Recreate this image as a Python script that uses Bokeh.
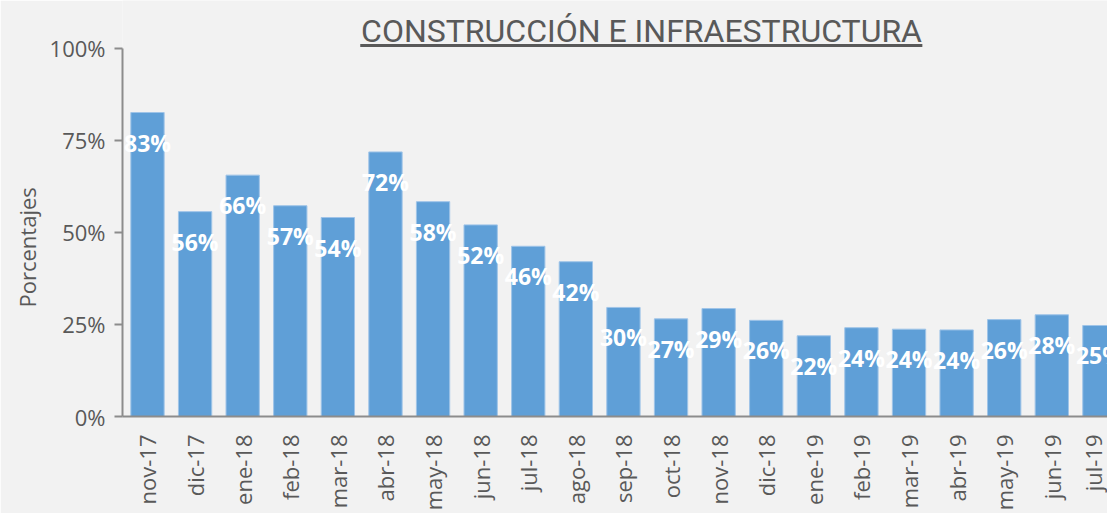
import math
from bokeh.plotting import figure
from bokeh.models import ColumnDataSource, Range1d, FixedTicker, Label, BoxAnnotation, PrintfTickFormatter, Title
from bokeh.core.properties import value
from bokeh.embed import file_html
from bokeh.resources import INLINE

months = ["nov-17", "dic-17", "ene-18", "feb-18", "mar-18", "abr-18", "may-18",
          "jun-18", "jul-18", "ago-18", "sep-18", "oct-18", "nov-18", "dic-18",
          "ene-19", "feb-19", "mar-19", "abr-19", "may-19", "jun-19", "jul-19"]
shares = [82.5, 55.6, 65.5, 57.2, 54.0, 71.8, 58.3, 52.0, 46.2, 42.0, 29.6,
          26.5, 29.3, 26.1, 21.9, 24.1, 23.7, 23.5, 26.3, 27.6, 24.7]
share_labels = [83, 56, 66, 57, 54, 72, 58, 52, 46, 42, 30, 27, 29, 26, 22,
                24, 24, 24, 26, 28, 25]
y_ticks = [0, 25, 50, 75, 100]
title_text = "CONSTRUCCIÓN E INFRAESTRUCTURA"
y_title = "Porcentajes"

GREY = "#595959"
FONT = value("Open Sans")

idx = list(range(len(months)))
src = ColumnDataSource(dict(x=idx, top=shares, lab=[f"{v}%" for v in share_labels]))

p = figure(width=1107, height=513,
           x_range=Range1d(-0.525, 20.17), y_range=Range1d(0, 112.9),
           output_backend="svg", toolbar_location=None,
           min_border_left=122, min_border_right=0, min_border_top=0, min_border_bottom=94)
p.background_fill_color = "#f2f2f2"
p.border_fill_color = "#f2f2f2"
p.outline_line_color = None
p.grid.visible = False

p.vbar(x="x", top="top", bottom=0, width=0.7, source=src,
       fill_color="#5f9fd7", line_color="#9fc4e8", line_width=1)
p.text(x="x", y="top", text="lab", source=src, y_offset=30,
       text_align="center", text_baseline="middle", text_color="white",
       text_font=FONT, text_font_style="bold", text_font_size="23px")

xa = p.xaxis[0]
xa.ticker = FixedTicker(ticks=idx)
xa.major_label_overrides = {i: m for i, m in enumerate(months)}
xa.major_label_orientation = math.pi / 2
xa.major_tick_out = 0
xa.major_tick_in = 0
xa.minor_tick_out = 0
xa.minor_tick_in = 0
xa.major_label_standoff = 18
xa.axis_line_color = "#8c8c8c"
xa.axis_line_width = 2
xa.major_label_text_font = "Open Sans"
xa.major_label_text_font_size = "22px"
xa.major_label_text_color = GREY

ya = p.yaxis[0]
ya.ticker = FixedTicker(ticks=y_ticks)
ya.bounds = (0, 100)
ya.formatter = PrintfTickFormatter(format="%d%%")
ya.major_tick_out = 8
ya.major_tick_in = 0
ya.minor_tick_out = 0
ya.minor_tick_in = 0
ya.major_label_standoff = 9
ya.axis_line_color = "#8c8c8c"
ya.axis_line_width = 2
ya.major_tick_line_color = "#8c8c8c"
ya.major_tick_line_width = 2
ya.major_label_text_font = "Open Sans"
ya.major_label_text_font_size = "22px"
ya.major_label_text_color = GREY

p.add_layout(Title(text=y_title, align="left", offset=109,
                   text_font="Open Sans", text_font_size="22px",
                   text_font_style="normal", text_color=GREY), "left")

p.add_layout(Label(x=10.38, y=104.6, text=title_text,
                   text_align="center", text_baseline="middle",
                   text_font="Roboto", text_font_size="32px", text_color=GREY))
p.add_layout(BoxAnnotation(left=4.47, right=16.28, bottom=100.3, top=101.1,
                           fill_color=GREY, fill_alpha=1, line_color=None))

open("out.html", "w").write(file_html(p, INLINE))
